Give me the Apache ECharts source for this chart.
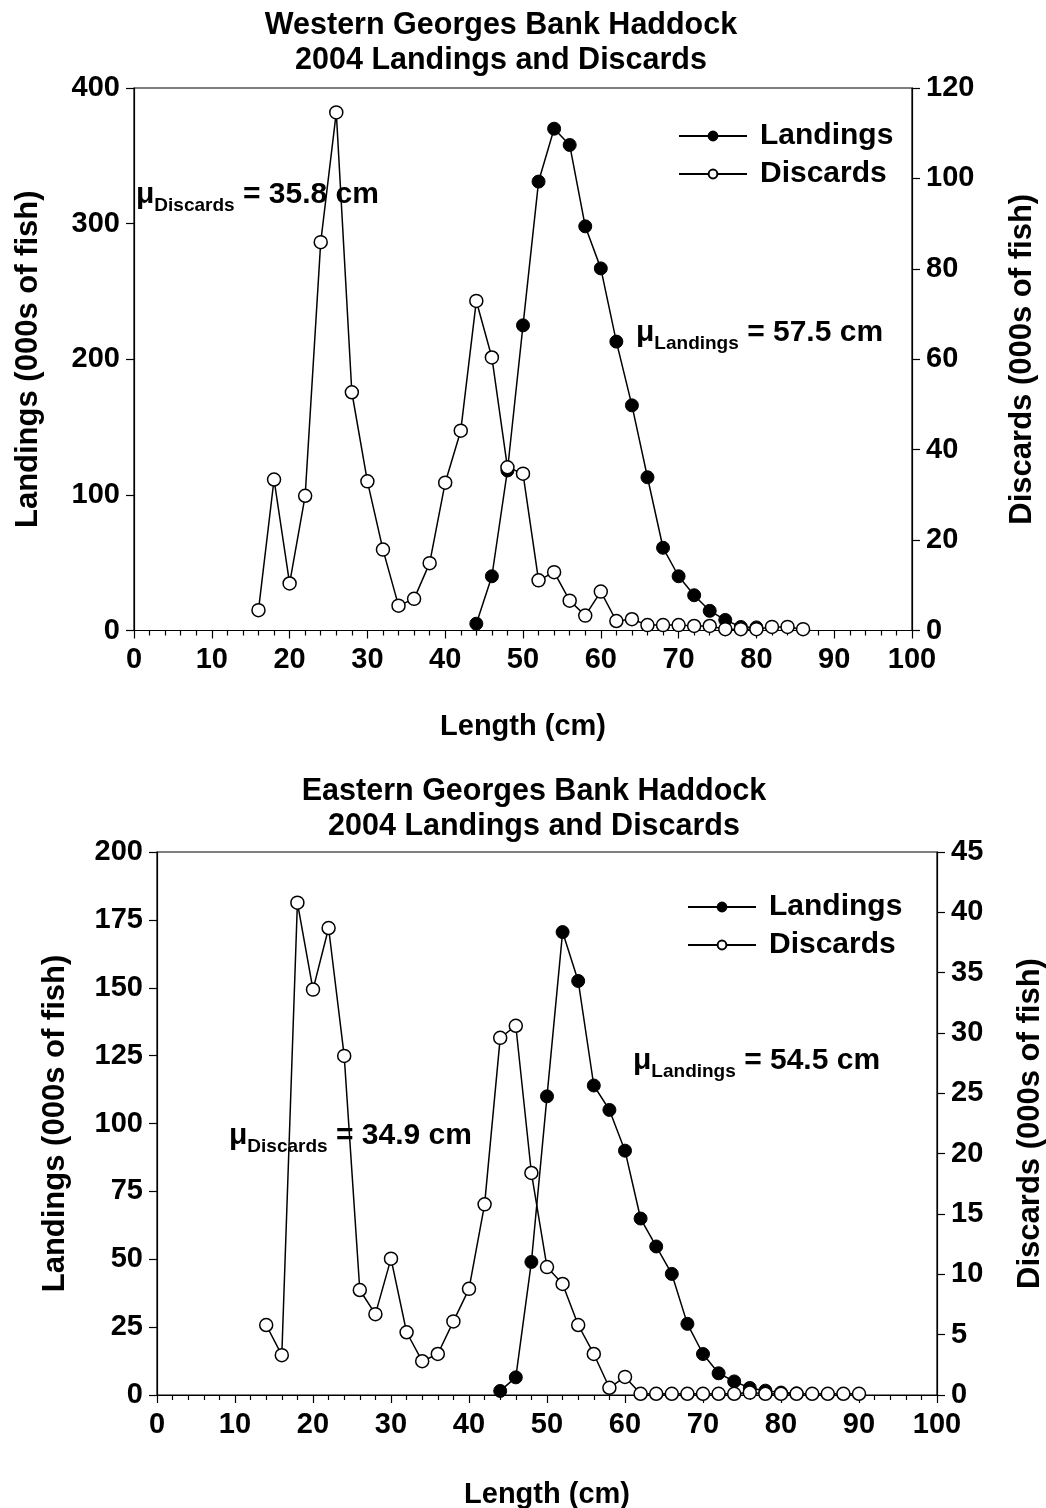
<!DOCTYPE html>
<html>
<head>
<meta charset="utf-8">
<script src="https://cdn.jsdelivr.net/npm/echarts@6/dist/echarts.min.js"></script>
<style>
  html, body { margin: 0; padding: 0; background: #fff; }
  #west { position: absolute; left: 0; top: 0; width: 1046px; height: 760px; }
  #east { position: absolute; left: 0; top: 760px; width: 1046px; height: 748px; }
</style>
</head>
<body>
<div id="west"></div>
<div id="east"></div>
<script>
// Western Georges Bank haddock, 2004 (lengths in cm, numbers in 000s of fish)
const westLandLen = [44, 46, 48, 50, 52, 54, 56, 58, 60, 62, 64, 66, 68, 70, 72, 74, 76, 78, 80];
const westLandings = [5, 40, 118, 225, 331, 370, 358, 298, 267, 213, 166, 113, 61, 40, 26, 14.5, 7.8, 2.6, 2.3];
const westDiscLen = [16, 18, 20, 22, 24, 26, 28, 30, 32, 34, 36, 38, 40, 42, 44, 46, 48, 50,
  52, 54, 56, 58, 60, 62, 64, 66, 68, 70, 72, 74, 76, 78, 80, 82, 84, 86];
const westDiscards = [4.5, 33.4, 10.4, 29.8, 85.9, 114.6, 52.7, 33.0, 17.9, 5.5, 7.0, 14.9, 32.7, 44.2, 72.9, 60.4, 36.1, 34.7,
  11.1, 12.9, 6.6, 3.3, 8.6, 2.1, 2.5, 1.2, 1.2, 1.2, 1.0, 1.0, 0.3, 0.3, 0.3, 0.8, 0.8, 0.3];

// Eastern Georges Bank haddock, 2004
const eastLandLen = [44, 46, 48, 50, 52, 54, 56, 58, 60, 62, 64, 66, 68, 70, 72, 74, 76, 78, 80, 82];
const eastLandings = [1.5, 6.5, 49, 110, 170.5, 152.5, 114, 105, 90, 65, 54.7, 44.6, 26.2, 15.1, 8, 5, 2.6, 1.6, 0.9, 0.6];
const eastDiscLen = [14, 16, 18, 20, 22, 24, 26, 28, 30, 32, 34, 36, 38, 40, 42, 44, 46, 48, 50, 52, 54, 56, 58, 60,
  62, 64, 66, 68, 70, 72, 74, 76, 78, 80, 82, 84, 86, 88, 90];
const eastDiscards = [5.8, 3.3, 40.8, 33.6, 38.7, 28.1, 8.7, 6.7, 11.3, 5.2, 2.8, 3.4, 6.1, 8.8, 15.8, 29.6, 30.6, 18.4, 10.6, 9.2, 5.8, 3.4, 0.6, 1.5,
  0.1, 0.1, 0.1, 0.1, 0.1, 0.1, 0.1, 0.2, 0.1, 0.1, 0.1, 0.1, 0.1, 0.1, 0.1];

// Axis ranges and tick spacing
const xTicks = { min: 0, max: 100, interval: 10 };
const westLeftTicks = { min: 0, max: 400, interval: 100 };
const westRightTicks = { min: 0, max: 120, interval: 20 };
const eastLeftTicks = { min: 0, max: 200, interval: 25 };
const eastRightTicks = { min: 0, max: 45, interval: 5 };

const FONT = '"Liberation Sans", Arial, Helvetica, sans-serif';
const pairs = (xs, ys) => xs.map((x, i) => [x, ys[i]]);

function buildOption(cfg) {
  const labelStyle = { color: '#000', fontFamily: FONT, fontWeight: 'bold', fontSize: 29 };
  const nameStyle = { color: '#000', fontFamily: FONT, fontWeight: 'bold', fontSize: 29 };
  const yNameStyle = { color: '#000', fontFamily: FONT, fontWeight: 'bold', fontSize: 31 };
  const axisLine = { show: true, onZero: false, lineStyle: { color: '#000', width: 1.2 } };
  const yAxisBase = (t, pos, gap) => ({
    type: 'value', position: pos, min: t.min, max: t.max, interval: t.interval,
    axisLine, axisTick: { show: true, inside: false, length: 8, lineStyle: { color: '#000', width: 1.2 } },
    axisLabel: Object.assign({ margin: 14 }, labelStyle),
    splitLine: { show: false },
    nameLocation: 'middle', nameRotate: 90, nameGap: gap, nameTextStyle: yNameStyle
  });
  const mu = (sub, val, x, y) => ({
    type: 'text', x, y,
    style: {
      text: '{m|μ}{s|' + sub + '}{m| = ' + val + ' cm}',
      textVerticalAlign: 'middle',
      rich: {
        m: { fontFamily: FONT, fontWeight: 'bold', fontSize: 30, lineHeight: 40, verticalAlign: 'middle', fill: '#000' },
        s: { fontFamily: FONT, fontWeight: 'bold', fontSize: 19, lineHeight: 16, verticalAlign: 'bottom', fill: '#000' }
      }
    }
  });
  return {
    animation: false,
    backgroundColor: '#fff',
    grid: {
      left: cfg.grid.left, right: cfg.grid.right, top: cfg.grid.top, height: cfg.grid.height,
      outerBoundsMode: 'none', containLabel: false,
      show: true, borderColor: '#000', borderWidth: 1.2, backgroundColor: 'transparent'
    },
    graphic: [
      {
        type: 'text', x: cfg.titleX, y: cfg.titleY,
        style: {
          text: cfg.title, textAlign: 'center', textVerticalAlign: 'top',
          fontFamily: FONT, fontWeight: 'bold', fontSize: 30.5, lineHeight: 35, fill: '#000'
        }
      },
      mu('Discards', cfg.discMean, cfg.discMeanPos[0], cfg.discMeanPos[1]),
      mu('Landings', cfg.landMean, cfg.landMeanPos[0], cfg.landMeanPos[1])
    ],
    legend: {
      orient: 'vertical', left: cfg.legendPos[0], top: cfg.legendPos[1],
      itemWidth: 68, itemHeight: 11, itemGap: 8,
      textStyle: { color: '#000', fontFamily: FONT, fontWeight: 'bold', fontSize: 30, padding: [0, 0, 0, 8] },
      data: ['Landings', 'Discards']
    },
    xAxis: {
      type: 'value', min: xTicks.min, max: xTicks.max, interval: xTicks.interval,
      axisLine, axisTick: { show: true, length: 8, lineStyle: { color: '#000', width: 1.2 } },
      minorTick: { show: true, splitNumber: 5, length: 5, lineStyle: { color: '#000', width: 1.2 } },
      axisLabel: Object.assign({ margin: 15 }, labelStyle),
      splitLine: { show: false },
      name: 'Length (cm)', nameLocation: 'middle', nameGap: cfg.xNameGap, nameTextStyle: nameStyle
    },
    yAxis: [
      Object.assign(yAxisBase(cfg.left, 'left', cfg.leftNameGap), { name: 'Landings (000s of fish)' }),
      Object.assign(yAxisBase(cfg.right, 'right', cfg.rightNameGap), { name: 'Discards (000s of fish)' })
    ],
    series: [
      {
        name: 'Landings', type: 'line', yAxisIndex: 0, data: pairs(cfg.landLen, cfg.land),
        symbol: 'circle', symbolSize: 13, z: 3,
        lineStyle: { color: '#000', width: 1.5 },
        itemStyle: { color: '#000', borderColor: '#000', borderWidth: 1 }
      },
      {
        name: 'Discards', type: 'line', yAxisIndex: 1, data: pairs(cfg.discLen, cfg.disc),
        symbol: 'circle', symbolSize: 13, z: 4,
        lineStyle: { color: '#000', width: 1.5 },
        itemStyle: { color: '#fff', borderColor: '#000', borderWidth: 1.5 }
      }
    ]
  };
}

const west = echarts.init(document.getElementById('west'), null, { renderer: 'canvas' });
west.setOption(buildOption({
  title: 'Western Georges Bank Haddock\n2004 Landings and Discards', titleX: 501, titleY: 8,
  grid: { left: 134, right: 134, top: 88, height: 542.5 },
  left: westLeftTicks, right: westRightTicks,
  landLen: westLandLen, land: westLandings, discLen: westDiscLen, disc: westDiscards,
  legendPos: [673, 116],
  discMean: '35.8', discMeanPos: [136, 195],
  landMean: '57.5', landMeanPos: [636, 333],
  xNameGap: 82, leftNameGap: 90, rightNameGap: 95
}));

const east = echarts.init(document.getElementById('east'), null, { renderer: 'canvas' });
east.setOption(buildOption({
  title: 'Eastern Georges Bank Haddock\n2004 Landings and Discards', titleX: 534, titleY: 14,
  grid: { left: 157, right: 109, top: 92, height: 543 },
  left: eastLeftTicks, right: eastRightTicks,
  landLen: eastLandLen, land: eastLandings, discLen: eastDiscLen, disc: eastDiscards,
  legendPos: [682, 127],
  discMean: '34.9', discMeanPos: [229, 376],
  landMean: '54.5', landMeanPos: [633, 301],
  xNameGap: 85, leftNameGap: 86, rightNameGap: 78
}));
</script>
</body>
</html>
